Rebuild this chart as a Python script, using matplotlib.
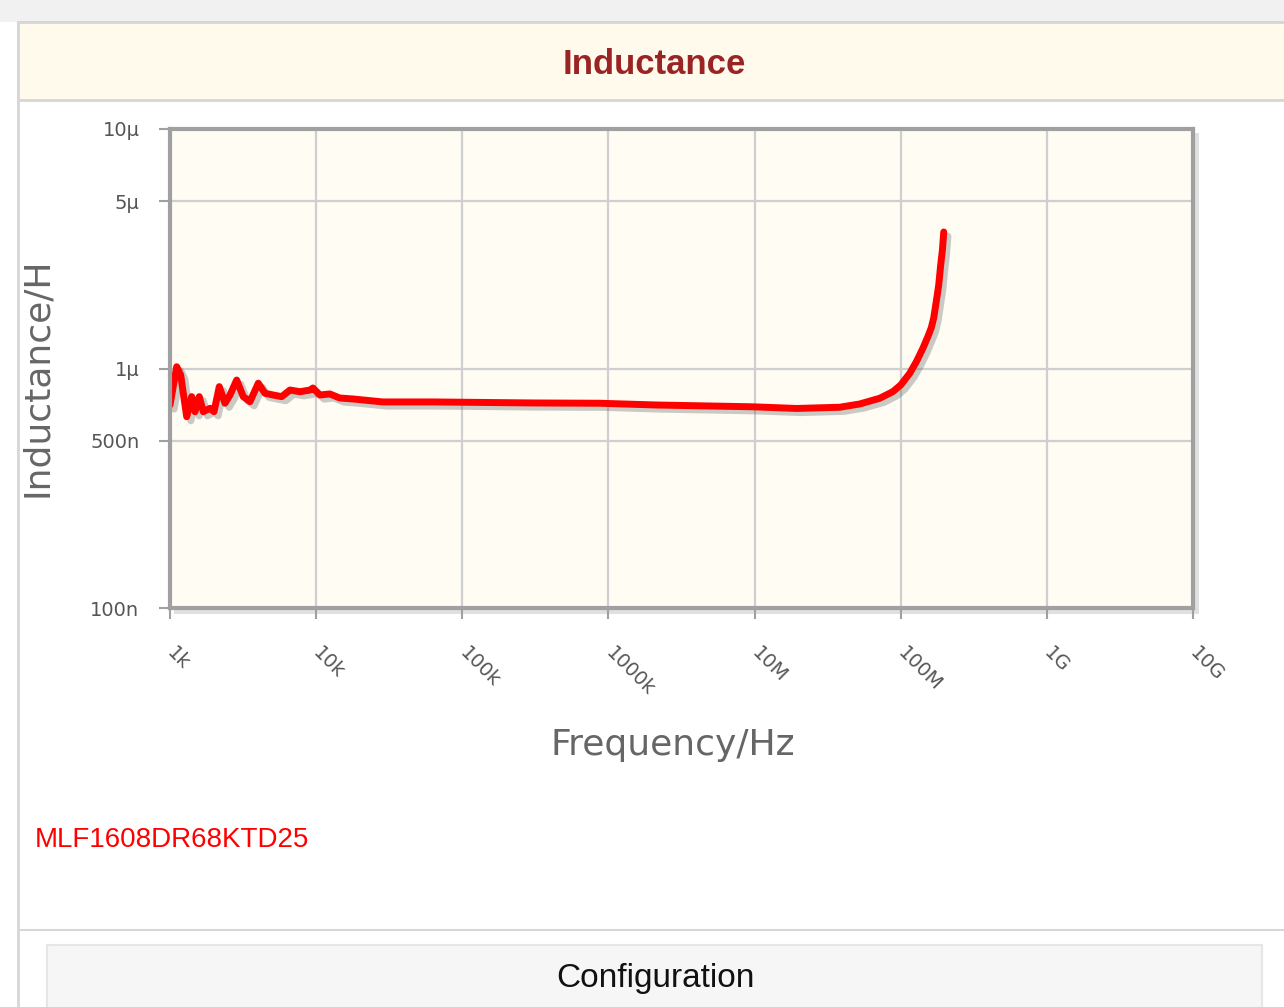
import numpy as np
import matplotlib
matplotlib.use("Agg")
import matplotlib.pyplot as plt
import matplotlib.patheffects as pe
from matplotlib.patches import Rectangle

# Data (frequency in Hz, inductance in nH)
freq_hz = [1.0e3, 1.111e3, 1.184e3, 1.247e3, 1.301e3, 1.407e3, 1.483e3, 1.586e3,
           1.69e3, 1.877e3, 2.0e3, 2.174e3, 2.378e3, 2.573e3, 2.859e3, 3.172e3,
           3.526e3, 4.018e3, 4.464e3, 5.089e3, 5.808e3, 6.62e3, 7.75e3, 9.07e3,
           9.51e3, 10.6e3, 12.4e3, 14.5e3, 17.9e3, 28.6e3, 62.9e3, 100e3,
           304e3, 873e3, 2.14e6, 9.72e6, 19.4e6, 38.3e6, 52.4e6, 71.8e6,
           88.2e6, 100e6, 115.3e6, 128e6, 142.1e6, 153e6, 161.7e6, 168.2e6,
           174.9e6, 182e6, 187.7e6, 192.9e6, 197e6]
induct_nh = [704, 1017, 939, 751, 629, 763, 660, 763,
             660, 682, 660, 840, 716, 775, 895, 763,
             727, 868, 788, 775, 763, 813, 800, 813,
             829, 775, 783, 753, 746, 725, 725, 723,
             718, 716, 704, 692, 681, 689, 711, 751,
             800, 853, 955, 1068, 1218, 1354, 1476, 1625,
             1895, 2232, 2705, 3124, 3715]

x_ticks = [1e3, 1e4, 1e5, 1e6, 1e7, 1e8, 1e9, 1e10]
x_labels = ["1k", "10k", "100k", "1000k", "10M", "100M", "1G", "10G"]
y_ticks = [100e-9, 500e-9, 1e-6, 5e-6, 10e-6]
y_labels = ["100n", "500n", "1µ", "5µ", "10µ"]

W, H = 1284, 1007
fig = plt.figure(figsize=(W / 100, H / 100), dpi=100)
fig.patch.set_facecolor("white")


def box(x0, y0, x1, y1, **kw):
    """Rectangle given in pixel coords (origin top-left)"""
    r = Rectangle((x0 / W, 1 - y1 / H), (x1 - x0) / W, (y1 - y0) / H,
                  transform=fig.transFigure, **kw)
    fig.add_artist(r)
    return r


# page / panel decoration
box(0, 0, W, 22, facecolor="#f1f1f1", edgecolor="none", zorder=0)
box(18, 22, W + 5, 1010, facecolor="white", edgecolor="#d6d6d6", linewidth=2, zorder=0)
box(18, 22, W + 5, 100, facecolor="#fffaec", edgecolor="#d6d6d6", linewidth=2, zorder=0)
box(18, 929, W + 5, 931, facecolor="#d6d6d6", edgecolor="none", zorder=0)
box(47, 945, 1262, 1010, facecolor="#f6f6f6", edgecolor="#e6e6e6", linewidth=1.5, zorder=0)

fig.text(654 / W, 1 - 64 / H, "Inductance", ha="center", va="center",
         fontsize=25, fontweight="bold", color="#9a2424",
         family=["Liberation Sans", "DejaVu Sans"])
fig.text(35 / W, 1 - 840 / H, "MLF1608DR68KTD25", ha="left", va="center",
         fontsize=20, color="#ff0000", family=["Liberation Sans", "DejaVu Sans"])
fig.text(655 / W, 1 - 978 / H, "Configuration", ha="center", va="center",
         fontsize=24, color="#111111", family=["Liberation Sans", "DejaVu Sans"])

# plot area shadow
box(174, 133, 1199, 614, facecolor="#000000", alpha=0.12, edgecolor="none", zorder=1)

ax = fig.add_axes([170 / W, 1 - 608 / H, (1193 - 170) / W, (608 - 129) / H])
ax.set_zorder(2)
ax.set_facecolor("#fefcf3")
ax.set_xscale("log")
ax.set_yscale("log")
ax.set_xlim(1e3, 1e10)
ax.set_ylim(100e-9, 10e-6)

ax.set_xticks(x_ticks)
ax.set_xticklabels(x_labels)
ax.set_yticks(y_ticks)
ax.set_yticklabels(y_labels)
ax.minorticks_off()
ax.grid(True, color="#cfcfcf", linewidth=1.6)
ax.set_axisbelow(True)

for s in ax.spines.values():
    s.set_color("#a0a0a0")
    s.set_linewidth(3)

ax.tick_params(axis="both", colors="#a0a0a0", width=1.5, length=8,
               labelcolor="#555555", labelsize=14)
ax.tick_params(axis="x", pad=22)
ax.tick_params(axis="y", pad=14)
for lab in ax.get_xticklabels():
    lab.set_rotation(-45)
    lab.set_ha("left")
    lab.set_va("center")
    lab.set_rotation_mode("anchor")

L = np.array(induct_nh) * 1e-9
ax.plot(freq_hz, L, color="#ff0000", linewidth=5, solid_capstyle="round",
        solid_joinstyle="round",
        path_effects=[pe.SimpleLineShadow(offset=(3, -3), shadow_color="#555555", alpha=0.3),
                      pe.Normal()])

fig.text(37 / W, 1 - 377 / H, "Inductance/H", rotation=90, ha="center", va="center",
         fontsize=26, color="#666666")
fig.text(673 / W, 1 - 745 / H, "Frequency/Hz", ha="center", va="center",
         fontsize=26, color="#666666")

fig.savefig("out.png", dpi=100)
